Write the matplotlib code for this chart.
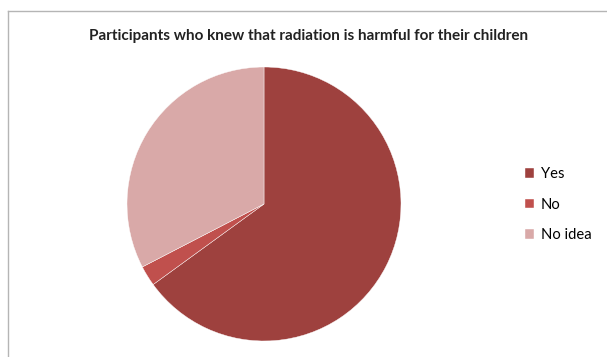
import matplotlib.pyplot as plt
from matplotlib.lines import Line2D

labels = ['Yes', 'No', 'No idea']
values = [65.0, 2.4, 32.6]
colors = ['#9E413E', '#C0504D', '#D9A9A8']

W, H = 607, 357
fig = plt.figure(figsize=(W / 100, H / 100), dpi=100)

# chart frame (only left and top edges visible)
fig.add_artist(Line2D([7.5 / W, 7.5 / W], [0, 1 - 11 / H], color='#B5B5B5', lw=1))
fig.add_artist(Line2D([7.5 / W, 1], [1 - 11 / H, 1 - 11 / H], color='#B5B5B5', lw=1))

fig.text(308.5 / W, 1 - 36 / H, 'Participants who knew that radiation is harmful for their children',
         ha='center', va='center', fontsize=11, fontweight='bold', family='Lato', color='#222222')

cx, cy, r = 264, 204, 137
ax = fig.add_axes([(cx - r) / W, 1 - (cy + r) / H, 2 * r / W, 2 * r / H])
wedges, _ = ax.pie(values, colors=colors, startangle=90, counterclock=False, radius=1,
                   wedgeprops=dict(linewidth=0.3, edgecolor='white'))
ax.set_xlim(-1, 1)
ax.set_ylim(-1, 1)
ax.set_aspect('equal')
ax.axis('off')

fig.legend(wedges, labels, loc='upper left', bbox_to_anchor=(512 / W, 1 - 154 / H),
           frameon=False, handlelength=0.6, handleheight=0.6, handletextpad=0.45,
           labelspacing=1.12, prop={'family': 'Lato', 'size': 10.6})

fig.savefig('out.png', dpi=100)
